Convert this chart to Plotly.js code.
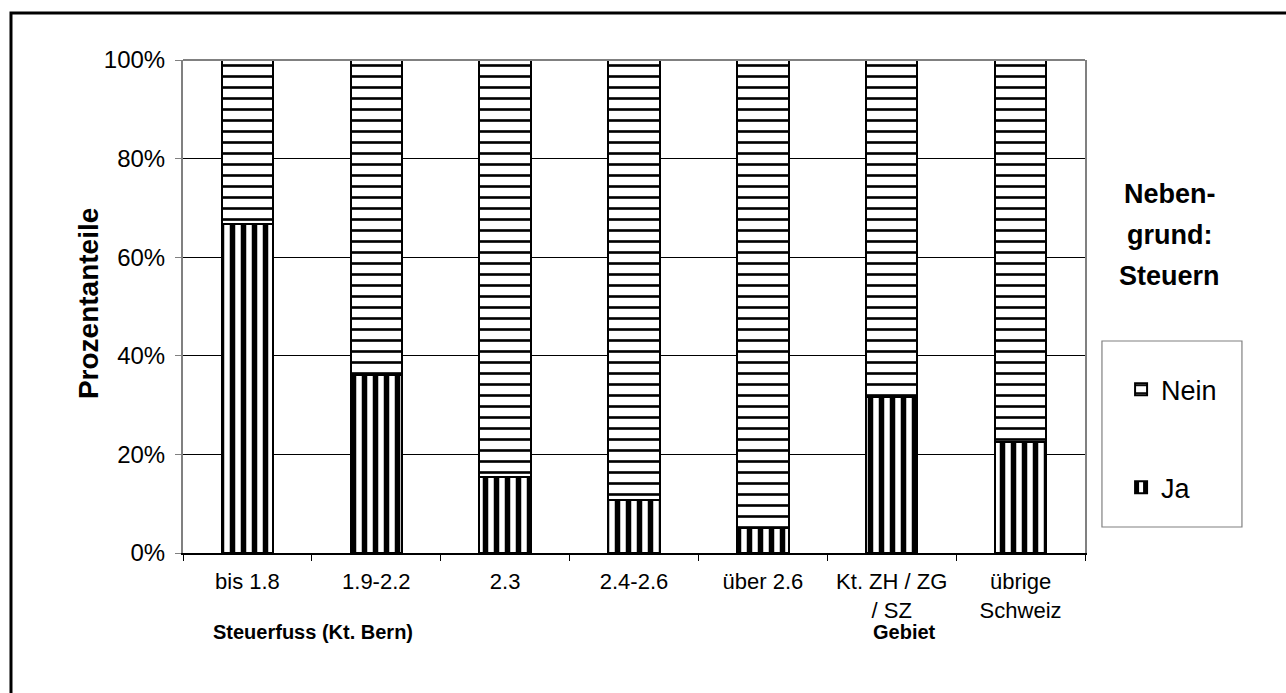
<!DOCTYPE html>
<html>
<head>
<meta charset="utf-8">
<script src="https://cdn.plot.ly/plotly-3.0.1.min.js"></script>
<style>html,body{margin:0;padding:0;background:#fff;}#chart{width:1286px;height:693px;}</style>
</head>
<body>
<div id="chart"></div>
<script>
var categories = ['bis 1.8', '1.9-2.2', '2.3', '2.4-2.6', 'über 2.6', 'Kt. ZH / ZG<br>/ SZ', 'übrige<br>Schweiz'];
var jaValues = [66.7, 36.1, 15.5, 10.7, 5.1, 31.7, 22.5];
var neinValues = [33.3, 63.9, 84.5, 89.3, 94.9, 68.3, 77.5];
var yTicks = [0, 20, 40, 60, 80, 100];
var yTickLabels = ['0%', '20%', '40%', '60%', '80%', '100%'];
var groupTitles = ['Steuerfuss (Kt. Bern)', 'Gebiet'];
var legendTitleLines = ['Neben-', 'grund:', 'Steuern'];
var yTitle = 'Prozentanteile';

var FONT = 'Liberation Sans, Arial, sans-serif';

var traces = [
  {
    type: 'bar', name: 'Ja', x: categories, y: jaValues, legendgroup: 'ja', legendrank: 2,
    marker: {color: 'white', line: {color: 'black', width: 2},
      pattern: {shape: '|', fgcolor: 'black', bgcolor: 'white', size: 11, solidity: 0.5}},
    hoverinfo: 'x+y'
  },
  {
    type: 'bar', name: 'Nein', x: categories, y: neinValues, legendgroup: 'nein', legendrank: 1,
    marker: {color: 'white', line: {color: 'black', width: 2},
      pattern: {shape: '-', fgcolor: 'black', bgcolor: 'white', size: 11, solidity: 0.24}},
    hoverinfo: 'x+y'
  }
];

var annotations = [
  {text: '<b>' + yTitle + '</b>', xref: 'paper', yref: 'paper', x: -0.1053, y: 0.505, textangle: -90,
   showarrow: false, font: {family: FONT, size: 28, color: 'black'}, xanchor: 'center', yanchor: 'middle'},
  {text: '<b>' + groupTitles[0] + '</b>', xref: 'paper', yref: 'paper', x: 0.144, y: -0.160,
   showarrow: false, font: {family: FONT, size: 20, color: 'black'}, xanchor: 'center', yanchor: 'middle'},
  {text: '<b>' + groupTitles[1] + '</b>', xref: 'paper', yref: 'paper', x: 0.800, y: -0.160,
   showarrow: false, font: {family: FONT, size: 20, color: 'black'}, xanchor: 'center', yanchor: 'middle'}
];
var titleYpx = [194, 235, 276];
legendTitleLines.forEach(function (t, i) {
  annotations.push({text: '<b>' + t + '</b>', xref: 'paper', yref: 'paper', x: 1.094,
    y: (553 - titleYpx[i]) / 493, showarrow: false, font: {family: FONT, size: 27, color: 'black'},
    xanchor: 'center', yanchor: 'middle'});
});

var layout = {
  width: 1286, height: 693,
  margin: {l: 183, r: 201, t: 60, b: 140, pad: 0},
  paper_bgcolor: 'white', plot_bgcolor: 'white',
  font: {family: FONT, size: 20, color: 'black'},
  barmode: 'stack', bargap: 0.6,
  showlegend: true,
  legend: {x: 1.040, y: 0.381, xanchor: 'left', yanchor: 'top', traceorder: 'grouped',
    tracegroupgap: 60, font: {family: FONT, size: 27, color: 'black'}, bgcolor: 'rgba(0,0,0,0)', borderwidth: 0},
  xaxis: {type: 'category', showline: true, linecolor: 'black', linewidth: 1.5,
    ticks: 'outside', tickson: 'boundaries', ticklen: 6, tickcolor: 'black', tickwidth: 1,
    ticklabelstandoff: 8,
    tickfont: {family: FONT, size: 22, color: 'black'}, showgrid: false, automargin: false, fixedrange: true},
  yaxis: {range: [0, 100], tickmode: 'array', tickvals: yTicks, ticktext: yTickLabels,
    showline: true, linecolor: '#808080', linewidth: 2,
    mirror: true, ticks: 'outside', ticklen: 6, tickcolor: '#808080', showgrid: true, gridcolor: 'black',
    gridwidth: 1, zeroline: false, ticklabelstandoff: 5, tickfont: {family: FONT, size: 24, color: 'black'},
    automargin: false, fixedrange: true},
  annotations: annotations,
  shapes: [
    {type: 'line', xref: 'paper', yref: 'paper', x0: 0, x1: 1, y0: 1, y1: 1, line: {color: '#808080', width: 2}},
    {type: 'rect', xref: 'paper', yref: 'paper', x0: 1.0188, x1: 1.174, y0: 0.0527, y1: 0.430,
     line: {color: '#808080', width: 1.2}},
    {type: 'rect', xref: 'paper', yref: 'paper', x0: -0.1907, x1: 1.6, y0: -0.7, y1: 1.0953,
     line: {color: 'black', width: 3}}
  ]
};

Plotly.newPlot('chart', traces, layout, {displayModeBar: false, staticPlot: true});
</script>
</body>
</html>
